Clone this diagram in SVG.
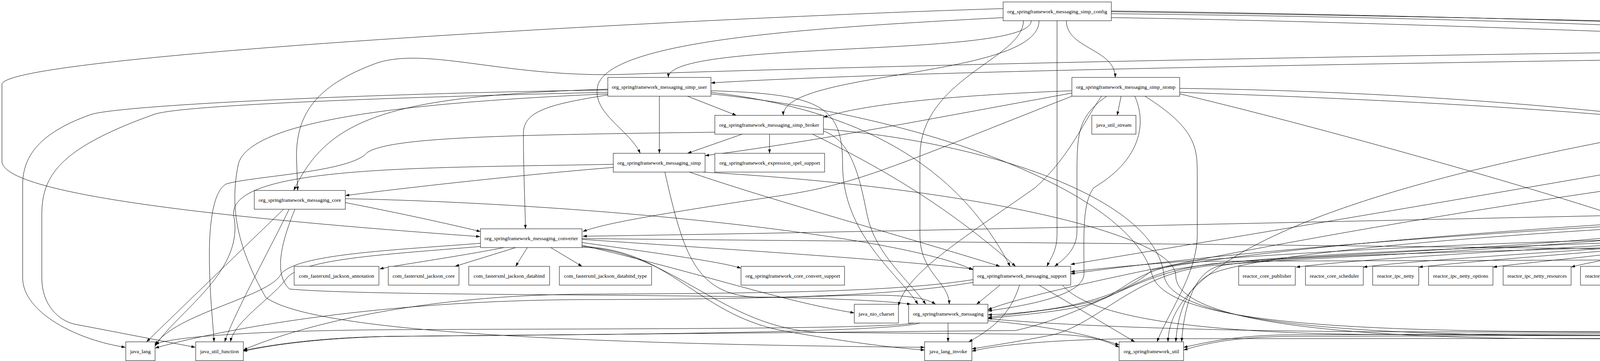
<svg xmlns="http://www.w3.org/2000/svg" width="7940" height="923" viewBox="0 0 7940 923">
<defs>
<marker id="ah" viewBox="0 0 10 7" refX="10" refY="3.5" markerWidth="10" markerHeight="7" markerUnits="userSpaceOnUse" orient="auto"><path d="M0,0L10,3.5L0,7z" fill="#000"/></marker>
<style>
.edges path{fill:none;stroke:#000;stroke-width:1;marker-end:url(#ah)}
.node rect{fill:#fff;stroke:#000;stroke-width:1}
.node text{font-family:"Liberation Serif","Times New Roman",serif;font-size:13.5px;text-anchor:middle;fill:#000}
</style>
</defs>
<rect x="0" y="0" width="7940" height="923" fill="#fff"/>
<g id="connectors" class="edges">
<path d="M2730,53 C2730,125 2855,125 2855,198"/>
<path d="M2640,53 C2640,150 1711,100 1711,198"/>
<path d="M2660,53 C2660,200 2005,180 2005,295"/>
<path d="M2568,45 C2100,70 1560,100 1530,220 C1515,290 1610,330 1639,392"/>
<path d="M2620,53 C2620,150 2355,200 2355,400 L2355,600 C2355,700 2430,720 2430,778"/>
<path d="M2706,53 L2706,600 C2706,640 2690,660 2680,681"/>
<path d="M2568,22 C1800,45 20,140 5,215 L5,415 C20,500 600,560 1229,605"/>
<path d="M2845,28 C3800,40 5000,80 5682,112"/>
<path d="M2845,35 C4200,50 5300,100 5385,220 L5390,600 C5392,650 5530,650 5565,681"/>
<path d="M2845,45 C3800,60 4700,110 5000,105 C5300,95 5550,40 5585,200 L5596,540 C5596,620 5500,640 5500,700 L5500,730 C5500,760 5580,768 5610,778"/>
<path d="M2845,30 C5000,60 7600,150 7920,215 L7925,700 C7925,820 7000,890 6810,898"/>
<path d="M5682,118 C4000,130 2500,160 1600,190 C1300,200 1100,120 968,160 C800,220 759,300 759,400 L762,487"/>
<path d="M5830,150 L5800,198"/>
<path d="M5880,150 C5900,250 5860,400 5846,487"/>
<path d="M6032,135 C6500,160 6660,200 6660,320 C6660,450 6520,520 6493,585"/>
<path d="M6032,128 C6500,150 6758,200 6758,300 L6758,585"/>
<path d="M6032,131 C6600,170 7012,220 7012,330 L7012,500 C7012,600 6940,640 6925,681"/>
<path d="M6032,133 C6700,180 7114,230 7114,330 L7114,560 C7114,620 7165,650 7173,681"/>
<path d="M6032,126 C6900,160 7262,230 7262,330 L7262,450 C7262,520 7320,560 7331,585"/>
<path d="M6032,124 C7000,150 7555,230 7555,330 L7555,600 C7555,680 7460,740 7442,778"/>
<path d="M6032,122 C7100,140 7643,230 7643,330 L7643,600 C7643,640 7670,660 7673,681"/>
<path d="M6032,120 C7000,125 7870,170 7872,300 L7872,700 C7870,830 7000,880 6810,888"/>
<path d="M5682,130 C4500,150 2500,170 1820,212"/>
<path d="M5700,150 C5000,300 3500,550 2741,676"/>
<path d="M5720,150 C5600,250 5500,330 5000,380 C4000,470 2700,720 2529,792"/>
<path d="M5682,145 C4700,250 3000,450 2990,874"/>
<path d="M1688,246 L1688,392"/>
<path d="M1760,246 L1885,295"/>
<path d="M1820,232 C2100,240 2157,270 2157,420 C2157,600 2300,700 2350,778"/>
<path d="M1556,228 C1000,245 840,300 752,487"/>
<path d="M1556,230 C900,240 300,270 232,293 C100,340 58,400 58,473 L58,710 C58,800 200,870 321,888"/>
<path d="M1556,236 C950,250 450,270 393,293 C150,380 107,450 107,550 L107,710 C107,780 150,820 192,829 L500,888"/>
<path d="M1556,240 C1100,260 640,300 610,420 C590,520 600,620 680,760 C800,850 1500,880 2367,888"/>
<path d="M1820,236 C2200,280 2450,420 2586,681"/>
<path d="M1820,240 C2400,300 2900,500 2950,705 C2990,820 3400,845 4000,848 L6000,852 C6400,856 6560,870 6638,880"/>
<path d="M1560,242 C1420,265 1340,280 1340,340 C1340,450 1345,540 1345,585"/>
<path d="M2870,246 L2860,295"/>
<path d="M2744,238 C2400,300 2100,360 1805,398"/>
<path d="M2744,232 C2400,245 2200,270 2108,300"/>
<path d="M2744,246 C2300,420 2200,470 2000,500 C1700,545 1550,570 1492,592"/>
<path d="M2833,246 C2757,300 2757,343 2757,460 L2757,592 C2757,640 2720,665 2700,681"/>
<path d="M2931,246 C3065,330 3065,380 3065,450 L3065,600 C3065,700 2990,800 2962,874"/>
<path d="M2905,246 C2930,300 2935,400 2800,480 C2770,520 2775,600 2775,700 C2775,760 2600,785 2529,795"/>
<path d="M3020,240 C3400,330 4000,500 4237,585"/>
<path d="M3020,226 C4200,240 5300,420 5440,600 C5480,650 5560,660 5590,681"/>
<path d="M3020,236 C4000,270 4839,330 4839,450 L4839,515 C4839,600 5800,640 6053,690"/>
<path d="M2820,246 C2780,300 2740,400 2650,480 C2450,620 2320,700 2300,782"/>
<path d="M1900,343 L1760,392"/>
<path d="M1970,343 L1970,392"/>
<path d="M2080,343 C2300,450 2450,550 2600,681"/>
<path d="M2108,335 C2180,360 2200,450 2220,550 C2240,650 2330,720 2370,778"/>
<path d="M2108,330 C2500,360 2960,500 2980,705 C3000,830 3500,855 4000,858 L6000,862 C6400,866 6560,878 6638,886"/>
<path d="M1830,338 C1300,345 1000,350 940,390 C900,440 650,450 580,470 C540,490 536,600 536,650 C536,750 545,820 548,874"/>
<path d="M1702,440 C1750,650 1780,760 1950,760 C2150,760 2340,740 2395,778"/>
<path d="M1765,440 C2000,520 2300,600 2560,681"/>
<path d="M1570,428 C1300,450 1000,485 884,500"/>
<path d="M1570,420 C1100,430 560,420 600,560 C620,700 450,800 397,885"/>
<path d="M1800,440 C2500,480 3010,600 3010,705 C3010,830 3500,865 4000,866 L6000,870 C6400,874 6560,884 6638,892"/>
<path d="M726,535 L375,874"/>
<path d="M755,535 C720,620 700,700 741,739 C1000,762 2100,745 2332,778"/>
<path d="M884,518 C1050,550 1180,580 1230,592"/>
<path d="M740,535 C700,620 600,800 575,874"/>
<path d="M884,508 C1500,520 2300,600 2491,690"/>
<path d="M1290,633 C1150,660 1000,680 972,688"/>
<path d="M1320,633 L1165,681"/>
<path d="M1350,633 L1320,681"/>
<path d="M1410,633 L1490,681"/>
<path d="M1490,620 C1700,650 1850,670 1897,686"/>
<path d="M1490,627 C1800,700 2000,770 2187,800"/>
<path d="M1490,612 C1900,640 2300,665 2491,688"/>
<path d="M1230,622 C1000,640 760,650 720,700 C690,760 450,800 397,882"/>
<path d="M1232,630 C1000,650 780,660 735,710 C700,760 600,820 590,874"/>
<path d="M1490,630 C1720,640 1780,800 2000,845 C2200,880 2300,890 2367,895"/>
<path d="M1490,632 C1720,640 1850,840 2100,850 L2700,855 C2800,857 2840,875 2865,888"/>
<path d="M1490,610 C3000,625 5600,640 6053,693"/>
<path d="M5834,535 L5834,585"/>
<path d="M5900,535 L6030,585"/>
<path d="M5984,535 L6265,585"/>
<path d="M6016,525 C6300,545 6550,570 6645,590"/>
<path d="M5760,535 C5720,570 5712,600 5716,640 C5720,670 5790,670 5792,710 C5794,745 5780,765 5775,778"/>
<path d="M6016,530 C6400,545 6600,560 6605,620 C6610,680 6680,700 6680,760 L6680,874"/>
<path d="M6016,533 C6350,550 6570,570 6590,620 C6605,660 6700,680 6762,692"/>
<path d="M5652,520 C4500,540 2500,590 1492,604"/>
<path d="M5652,510 C4500,530 3300,620 2950,690 C2850,780 2650,800 2529,805"/>
<path d="M5652,515 C4500,545 3400,610 2741,700"/>
<path d="M5652,525 C4500,550 3300,620 3100,700 C3040,730 3015,800 3010,874"/>
<path d="M6330,633 L6216,681"/>
<path d="M6440,633 L6520,681"/>
<path d="M6360,633 C6330,680 6300,720 6260,745 C6150,780 5900,785 5829,790"/>
<path d="M6570,620 C6650,640 6710,700 6712,760 L6716,874"/>
<path d="M6570,628 C6650,650 6700,670 6762,688"/>
<path d="M6570,624 C6800,640 7050,665 7137,686"/>
<path d="M6270,633 C6200,660 5000,662 3100,668 C2950,672 2900,720 2850,750 C2800,785 2600,800 2529,812"/>
<path d="M6350,633 C6320,690 6300,730 6240,760 C6100,845 5500,850 5000,855 L3300,860 C3150,862 3080,880 3030,895"/>
<path d="M6390,633 C6360,700 6320,760 6260,780 C6100,850 5500,862 5000,865 L2900,866 C2700,868 2550,882 2488,898"/>
<path d="M7370,633 L7400,778"/>
<path d="M7405,633 C7460,680 7540,740 7545,790 C7560,880 7000,888 6810,896"/>
<path d="M7616,729 L7486,778"/>
<path d="M7670,729 C7620,830 7500,870 6810,892"/>
<path d="M6865,729 L6760,874"/>
<path d="M7012,715 C7150,750 7250,770 7298,785"/>
<path d="M5675,729 L5686,778"/>
<path d="M5630,729 C5560,800 5560,830 5640,850 C5900,880 6500,880 6638,885"/>
<path d="M5548,720 C5300,760 5000,850 4500,852 L3300,856 C3150,858 3080,878 3030,888"/>
<path d="M4199,622 C3900,640 3500,660 3318,683"/>
<path d="M4210,628 C3900,650 3600,668 3490,683"/>
<path d="M4220,633 C4000,650 3750,670 3632,683"/>
<path d="M4240,633 C4100,655 3900,672 3822,683"/>
<path d="M4260,633 C4150,658 4060,672 4022,683"/>
<path d="M4280,633 L4180,681"/>
<path d="M4316,633 L4285,681"/>
<path d="M4352,633 L4382,681"/>
<path d="M4390,633 L4500,681"/>
<path d="M4450,633 L4672,681"/>
<path d="M4470,622 C4650,645 4780,668 4848,683"/>
<path d="M4470,626 C4750,645 4950,668 5031,683"/>
<path d="M4470,630 C4800,650 5050,668 5132,683"/>
<path d="M4470,632 C4850,652 5150,670 5228,683"/>
<path d="M4465,633 C4900,656 5300,672 5383,683"/>
<path d="M4470,612 C4900,630 5400,655 5548,692"/>
<path d="M4470,618 C5000,630 5500,640 5520,700 C5525,750 5590,770 5615,778"/>
<path d="M4199,618 C3600,640 3200,655 3000,690 C2900,720 2850,760 2780,780 C2700,800 2600,805 2529,815"/>
<path d="M4199,612 C3600,625 3000,665 2741,695"/>
<path d="M4199,630 C3800,645 3300,650 3120,680 C3050,700 3030,800 3025,874"/>
<path d="M4460,633 C4470,660 4476,670 4476,700 C4476,760 4600,850 5000,855 L6400,862 C6550,865 6600,875 6638,880"/>
<path d="M4199,600 C3800,640 3300,655 3100,675 C2900,700 2800,800 2600,845 L1000,860 C800,865 680,885 623,898"/>
<path d="M4199,606 C3800,645 3300,660 3090,680 C2900,705 2820,820 2700,855 C2600,875 2530,885 2488,892"/>
<path d="M2560,729 L2500,778"/>
<path d="M2610,729 C2590,790 2560,830 2480,874"/>
<path d="M2660,729 L2905,874"/>
<path d="M2720,729 C2780,800 3000,850 3500,855 L6400,866 C6550,868 6600,878 6638,888"/>
<path d="M2491,715 C2300,745 2000,750 1500,752 C1000,755 700,860 623,895"/>
<path d="M2491,722 C2300,755 2000,765 1500,766 C900,768 500,860 397,890"/>
<path d="M2427,826 L2427,874"/>
<path d="M2529,815 C2700,830 3000,845 3500,848 L6400,856 C6550,858 6600,868 6638,876"/>
<path d="M2529,820 C2700,835 2800,860 2865,882"/>
<path d="M2340,826 C2250,842 1600,840 1000,843 C700,845 450,858 397,880"/>
<path d="M2355,826 C2270,850 1600,855 1000,860 C800,863 680,885 623,896"/>
</g>
<g id="n_simp_config" class="node"><rect x="2568" y="5" width="277" height="48"/><text x="2706.5" y="33.5">org_springframework_messaging_simp_config</text></g>
<g id="n_simp_annotation_support" class="node"><rect x="5682" y="102" width="350" height="48"/><text x="5857" y="130.5">org_springframework_messaging_simp_annotation_support</text></g>
<g id="n_simp_user" class="node"><rect x="1556" y="198" width="264" height="48"/><text x="1688" y="226.5">org_springframework_messaging_simp_user</text></g>
<g id="n_simp_stomp" class="node"><rect x="2744" y="198" width="276" height="48"/><text x="2882" y="226.5">org_springframework_messaging_simp_stomp</text></g>
<g id="n_context" class="node"><rect x="5682" y="198" width="186" height="48"/><text x="5775" y="226.5">org_springframework_context</text></g>
<g id="n_simp_broker" class="node"><rect x="1830" y="295" width="278" height="48"/><text x="1969" y="323.5">org_springframework_messaging_simp_broker</text></g>
<g id="n_java_util_stream" class="node"><rect x="2795" y="295" width="113" height="48"/><text x="2851.5" y="323.5">java_util_stream</text></g>
<g id="n_simp" class="node"><rect x="1570" y="392" width="235" height="48"/><text x="1687.5" y="420.5">org_springframework_messaging_simp</text></g>
<g id="n_spel_support" class="node"><rect x="1830" y="392" width="281" height="48"/><text x="1970.5" y="420.5">org_springframework_expression_spel_support</text></g>
<g id="n_messaging_core" class="node"><rect x="651" y="487" width="233" height="48"/><text x="767.5" y="515.5">org_springframework_messaging_core</text></g>
<g id="n_handler_annotation_support" class="node"><rect x="5652" y="487" width="364" height="48"/><text x="5834" y="515.5">org_springframework_messaging_handler_annotation_support</text></g>
<g id="n_converter" class="node"><rect x="1230" y="585" width="260" height="48"/><text x="1360" y="613.5">org_springframework_messaging_converter</text></g>
<g id="n_tcp_reactor" class="node"><rect x="4199" y="585" width="271" height="48"/><text x="4334.5" y="613.5">org_springframework_messaging_tcp_reactor</text></g>
<g id="n_validation" class="node"><rect x="5733" y="585" width="202" height="48"/><text x="5834" y="613.5">org_springframework_validation</text></g>
<g id="n_validation_annotation" class="node"><rect x="5961" y="585" width="267" height="48"/><text x="6094.5" y="613.5">org_springframework_validation_annotation</text></g>
<g id="n_handler_invocation" class="node"><rect x="6254" y="585" width="316" height="48"/><text x="6412" y="613.5">org_springframework_messaging_handler_invocation</text></g>
<g id="n_format_support" class="node"><rect x="6645" y="585" width="229" height="48"/><text x="6759.5" y="613.5">org_springframework_format_support</text></g>
<g id="n_handler_annotation" class="node"><rect x="7203" y="585" width="317" height="48"/><text x="7361.5" y="613.5">org_springframework_messaging_handler_annotation</text></g>
<g id="n_jackson_annotation" class="node"><rect x="753" y="681" width="217" height="48"/><text x="861.5" y="709.5">com_fasterxml_jackson_annotation</text></g>
<g id="n_jackson_core" class="node"><rect x="994" y="681" width="181" height="48"/><text x="1084.5" y="709.5">com_fasterxml_jackson_core</text></g>
<g id="n_jackson_databind" class="node"><rect x="1200" y="681" width="207" height="48"/><text x="1303.5" y="709.5">com_fasterxml_jackson_databind</text></g>
<g id="n_jackson_databind_type" class="node"><rect x="1432" y="681" width="236" height="48"/><text x="1550" y="709.5">com_fasterxml_jackson_databind_type</text></g>
<g id="n_core_convert_support" class="node"><rect x="1897" y="681" width="265" height="48"/><text x="2029.5" y="709.5">org_springframework_core_convert_support</text></g>
<g id="n_messaging_support" class="node"><rect x="2491" y="681" width="250" height="48"/><text x="2616" y="709.5">org_springframework_messaging_support</text></g>
<g id="n_reactor_core_publisher" class="node"><rect x="3171" y="681" width="145" height="48"/><text x="3243.5" y="709.5">reactor_core_publisher</text></g>
<g id="n_reactor_core_scheduler" class="node"><rect x="3342" y="681" width="148" height="48"/><text x="3416" y="709.5">reactor_core_scheduler</text></g>
<g id="n_reactor_ipc_netty" class="node"><rect x="3514" y="681" width="118" height="48"/><text x="3573" y="709.5">reactor_ipc_netty</text></g>
<g id="n_reactor_ipc_netty_options" class="node"><rect x="3657" y="681" width="165" height="48"/><text x="3739.5" y="709.5">reactor_ipc_netty_options</text></g>
<g id="n_reactor_ipc_netty_resources" class="node"><rect x="3848" y="681" width="174" height="48"/><text x="3935" y="709.5">reactor_ipc_netty_resources</text></g>
<g id="n_reactor_ipc_netty_tcp" class="node"><rect x="4046" y="681" width="142" height="48"/><text x="4117" y="709.5">reactor_ipc_netty_tcp</text></g>
<g id="n_io_netty_buffer" class="node"><rect x="4213" y="681" width="107" height="48"/><text x="4266.5" y="709.5">io_netty_buffer</text></g>
<g id="n_io_netty_channel" class="node"><rect x="4345" y="681" width="118" height="48"/><text x="4404" y="709.5">io_netty_channel</text></g>
<g id="n_io_netty_channel_group" class="node"><rect x="4488" y="681" width="157" height="48"/><text x="4566.5" y="709.5">io_netty_channel_group</text></g>
<g id="n_io_netty_handler_codec" class="node"><rect x="4669" y="681" width="154" height="48"/><text x="4746" y="709.5">io_netty_handler_codec</text></g>
<g id="n_io_netty_util_concurrent" class="node"><rect x="4848" y="681" width="158" height="48"/><text x="4927" y="709.5">io_netty_util_concurrent</text></g>
<g id="n_java_time" class="node"><rect x="5031" y="681" width="76" height="48"/><text x="5069" y="709.5">java_time</text></g>
<g id="n_java_util" class="node"><rect x="5132" y="681" width="71" height="48"/><text x="5167.5" y="709.5">java_util</text></g>
<g id="n_org_reactivestreams" class="node"><rect x="5228" y="681" width="130" height="48"/><text x="5293" y="709.5">org_reactivestreams</text></g>
<g id="n_reactor_core" class="node"><rect x="5383" y="681" width="89" height="48"/><text x="5427.5" y="709.5">reactor_core</text></g>
<g id="n_messaging_tcp" class="node"><rect x="5548" y="681" width="226" height="48"/><text x="5661" y="709.5">org_springframework_messaging_tcp</text></g>
<g id="n_core" class="node"><rect x="6053" y="681" width="169" height="48"/><text x="6137.5" y="709.5">org_springframework_core</text></g>
<g id="n_java_util_concurrent" class="node"><rect x="6500" y="681" width="136" height="48"/><text x="6568" y="709.5">java_util_concurrent</text></g>
<g id="n_messaging_handler" class="node"><rect x="6762" y="681" width="250" height="48"/><text x="6887" y="709.5">org_springframework_messaging_handler</text></g>
<g id="n_java_lang_reflect" class="node"><rect x="7137" y="681" width="117" height="48"/><text x="7195.5" y="709.5">java_lang_reflect</text></g>
<g id="n_simp_annotation" class="node"><rect x="7533" y="681" width="303" height="48"/><text x="7684.5" y="709.5">org_springframework_messaging_simp_annotation</text></g>
<g id="n_java_nio_charset" class="node"><rect x="2187" y="778" width="113" height="48"/><text x="2243.5" y="806.5">java_nio_charset</text></g>
<g id="n_messaging" class="node"><rect x="2326" y="778" width="203" height="48"/><text x="2427.5" y="806.5">org_springframework_messaging</text></g>
<g id="n_util_concurrent" class="node"><rect x="5599" y="778" width="230" height="48"/><text x="5714" y="806.5">org_springframework_util_concurrent</text></g>
<g id="n_core_annotation" class="node"><rect x="7298" y="778" width="233" height="48"/><text x="7414.5" y="806.5">org_springframework_core_annotation</text></g>
<g id="n_java_lang" class="node"><rect x="322" y="874" width="75" height="48"/><text x="359.5" y="902.5">java_lang</text></g>
<g id="n_java_util_function" class="node"><rect x="501" y="874" width="122" height="48"/><text x="562" y="902.5">java_util_function</text></g>
<g id="n_java_lang_invoke" class="node"><rect x="2367" y="874" width="121" height="48"/><text x="2427.5" y="902.5">java_lang_invoke</text></g>
<g id="n_util" class="node"><rect x="2865" y="874" width="165" height="48"/><text x="2947.5" y="902.5">org_springframework_util</text></g>
<g id="n_lang" class="node"><rect x="6638" y="874" width="171" height="48"/><text x="6723.5" y="902.5">org_springframework_lang</text></g>
</svg>
